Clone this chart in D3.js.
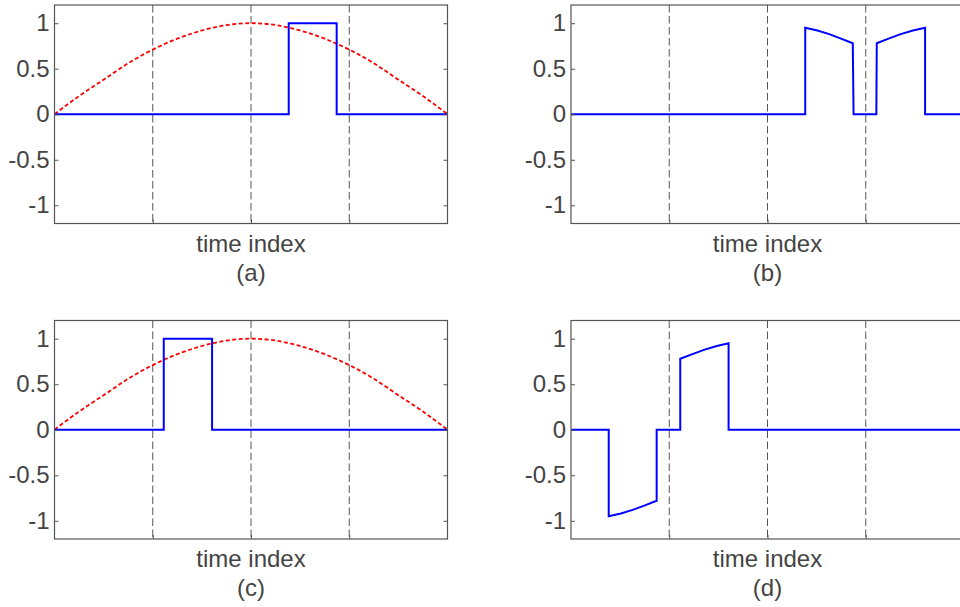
<!DOCTYPE html>
<html>
<head>
<meta charset="utf-8">
<script src="https://cdn.jsdelivr.net/npm/d3@7"></script>
<style>
  html, body { margin: 0; padding: 0; background: #fff; }
  svg { display: block; }
  text { font-family: "Liberation Sans", Arial, Helvetica, sans-serif; }
</style>
</head>
<body>
<svg id="chart" width="960" height="607"></svg>
<script>
// ---------------- data ----------------
const panelLabels = ["(a)", "(b)", "(c)", "(d)"];
const xLabel = "time index";
const yTickValues = [-1, -0.5, 0, 0.5, 1];
const yTickLabels = ["-1", "-0.5", "0", "0.5", "1"];
const xGridValues = [0.25, 0.5, 0.75];

// analysis window (red dashed) (a) and (c)
const windowX = [0, 0.0625, 0.125, 0.1875, 0.25, 0.3125, 0.375, 0.4375, 0.5, 0.5625, 0.625, 0.6875, 0.75, 0.8125, 0.875, 0.9375, 1];
const windowY = [0, 0.2, 0.38, 0.56, 0.71, 0.83, 0.92, 0.98, 1.0, 0.98, 0.92, 0.83, 0.71, 0.56, 0.38, 0.2, 0];

// panel (a) signal
const sigAX = [0, 0.596, 0.596, 0.718, 0.718, 1];
const sigAY = [0, 0, 1, 1, 0, 0];
// panel (b) signal
const sigBX = [0, 0.596, 0.596, 0.627, 0.657, 0.687, 0.717, 0.719, 0.777, 0.778, 0.808, 0.839, 0.870, 0.901, 0.901, 1];
const sigBY = [0, 0, 0.95, 0.92, 0.88, 0.83, 0.78, 0, 0, 0.78, 0.83, 0.88, 0.92, 0.95, 0, 0];
// panel (c) signal
const sigCX = [0, 0.278, 0.278, 0.401, 0.401, 1];
const sigCY = [0, 0, 1, 1, 0, 0];
// panel (d) signal
const sigDX = [0, 0.096, 0.096, 0.127, 0.157, 0.188, 0.218, 0.218, 0.278, 0.278, 0.309, 0.340, 0.371, 0.401, 0.401, 1];
const sigDY = [0, 0, -0.95, -0.92, -0.88, -0.83, -0.78, 0, 0, 0.78, 0.83, 0.88, 0.92, 0.95, 0, 0];

const xDomain = [0, 1];
const yDomain = [-1.2, 1.2];

// ---------------- layout ----------------
const plotW = 393, plotH = 218.5;
const colLeft = [54.5, 571];
const rowTop = [5, 320.5];
const textColor = "#444";
const axisColor = "#555";

const panels = [
  { label: panelLabels[0], col: 0, row: 0, sx: sigAX, sy: sigAY, win: true },
  { label: panelLabels[1], col: 1, row: 0, sx: sigBX, sy: sigBY, win: false },
  { label: panelLabels[2], col: 0, row: 1, sx: sigCX, sy: sigCY, win: true },
  { label: panelLabels[3], col: 1, row: 1, sx: sigDX, sy: sigDY, win: false }
];

const svg = d3.select("#chart");

const zip = (xs, ys) => xs.map((x, i) => [x, ys[i]]);

panels.forEach((p, idx) => {
  const left = colLeft[p.col], top = rowTop[p.row];
  const x = d3.scaleLinear().domain(xDomain).range([0, plotW]);
  const y = d3.scaleLinear().domain(yDomain).range([plotH, 0]);
  const g = svg.append("g").attr("transform", `translate(${left},${top})`);

  const clipId = "clip" + idx;
  g.append("clipPath").attr("id", clipId)
    .append("rect").attr("x", -1).attr("y", -1).attr("width", plotW + 2).attr("height", plotH + 2);

  // dashed vertical grid
  g.append("g").selectAll("line").data(xGridValues).join("line")
    .attr("x1", d => x(d)).attr("x2", d => x(d))
    .attr("y1", 0).attr("y2", plotH)
    .attr("stroke", "#555").attr("stroke-width", 1)
    .attr("stroke-dasharray", "7.5,3.5");

  const line = d3.line().x(d => x(d[0])).y(d => y(d[1]));

  const plotG = g.append("g").attr("clip-path", `url(#${clipId})`);
  if (p.win) {
    plotG.append("path")
      .attr("d", d3.line().x(d => x(d[0])).y(d => y(d[1])).curve(d3.curveNatural)(zip(windowX, windowY)))
      .attr("fill", "none").attr("stroke", "#ff0000").attr("stroke-width", 1.8)
      .attr("stroke-dasharray", "4,2.5");
  }
  plotG.append("path")
    .attr("d", line(zip(p.sx, p.sy)))
    .attr("fill", "none").attr("stroke", "#0000ff").attr("stroke-width", 2)
    .attr("stroke-linejoin", "miter");

  // axes (inward ticks)
  const yLeft = d3.axisLeft(y).tickValues(yTickValues)
    .tickFormat((d, i) => yTickLabels[i]).tickSizeInner(-4).tickSizeOuter(0).tickPadding(5);
  const yl = g.append("g").call(yLeft);
  yl.select(".domain").remove();
  yl.selectAll(".tick line").attr("stroke", axisColor);
  yl.selectAll(".tick text").attr("fill", textColor).style("font-size", "24px")
    .attr("font-family", "Liberation Sans, Arial, sans-serif");

  const yRight = d3.axisRight(y).tickValues(yTickValues).tickFormat("").tickSizeInner(-4).tickSizeOuter(0);
  const yr = g.append("g").attr("transform", `translate(${plotW},0)`).call(yRight);
  yr.select(".domain").remove();
  yr.selectAll(".tick line").attr("stroke", axisColor);

  const xBottom = d3.axisBottom(x).tickValues(xGridValues).tickFormat("").tickSizeInner(-4).tickSizeOuter(0);
  const xb = g.append("g").attr("transform", `translate(0,${plotH})`).call(xBottom);
  xb.select(".domain").remove();
  xb.selectAll(".tick line").attr("stroke", axisColor);

  // frame
  g.append("rect").attr("x", 0).attr("y", 0).attr("width", plotW).attr("height", plotH)
    .attr("fill", "none").attr("stroke", axisColor).attr("stroke-width", 1.2);

  // labels
  g.append("text").attr("x", plotW / 2).attr("y", plotH + 28)
    .attr("text-anchor", "middle").attr("fill", textColor).style("font-size", "24px")
    .text(xLabel);
  g.append("text").attr("x", plotW / 2).attr("y", plotH + 57)
    .attr("text-anchor", "middle").attr("fill", textColor).style("font-size", "24px")
    .text(p.label);
});
</script>
</body>
</html>
